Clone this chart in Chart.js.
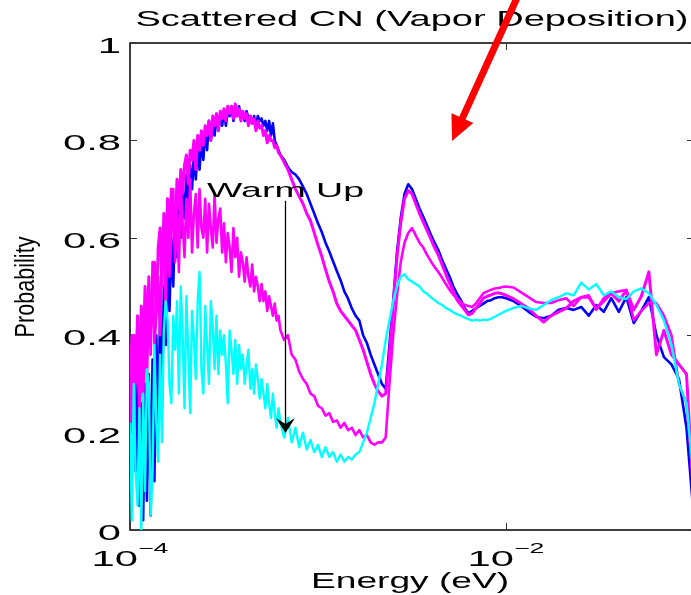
<!DOCTYPE html>
<html>
<head>
<meta charset="utf-8">
<script src="https://cdn.jsdelivr.net/npm/chart.js@4.4.1/dist/chart.umd.min.js"></script>
<style>
html, body { margin: 0; padding: 0; overflow: hidden; background: #fff; }
#wrap { width: 694px; height: 595px; }
</style>
</head>
<body>
<div id="wrap"><canvas id="cnChart"></canvas></div>
<script>
// log10 of energy (eV) for every sample, shared by all runs
const logEnergy = [
    -4.00,-3.99,-3.98,-3.97,-3.96,-3.95,-3.94,-3.93,-3.92,-3.91,
    -3.90,-3.89,-3.88,-3.87,-3.86,-3.85,-3.84,-3.83,-3.82,-3.81,
    -3.80,-3.79,-3.78,-3.77,-3.76,-3.75,-3.74,-3.73,-3.72,-3.71,
    -3.70,-3.69,-3.68,-3.67,-3.66,-3.65,-3.64,-3.63,-3.62,-3.61,
    -3.60,-3.59,-3.58,-3.57,-3.56,-3.55,-3.54,-3.53,-3.52,-3.51,
    -3.50,-3.49,-3.48,-3.47,-3.46,-3.45,-3.44,-3.43,-3.42,-3.41,
    -3.40,-3.39,-3.38,-3.37,-3.36,-3.35,-3.34,-3.33,-3.32,-3.31,
    -3.30,-3.29,-3.28,-3.27,-3.26,-3.25,-3.24,-3.23,-3.22,-3.21,
    -3.20,
    -3.18,-3.16,-3.14,-3.12,-3.10,-3.08,-3.06,-3.04,-3.02,-3.00,
    -2.98,-2.96,-2.94,-2.92,-2.90,-2.88,-2.86,-2.84,-2.82,-2.80,
    -2.78,-2.76,-2.74,-2.72,-2.70,-2.68,-2.66,-2.64,-2.62,-2.60,
    -2.58,-2.56,-2.54,-2.52,-2.50,-2.48,-2.46,-2.44,-2.42,-2.40,
    -2.38,-2.36,-2.34,-2.32,-2.30,-2.28,-2.26,-2.24,-2.22,-2.20,
    -2.18,-2.16,-2.14,-2.12,-2.10,-2.08,-2.06,-2.04,-2.02,-2.00,
    -1.96,-1.92,-1.88,-1.84,-1.80,-1.76,-1.72,-1.68,-1.64,-1.60,
    -1.56,-1.52,-1.48,-1.44,-1.40,-1.36,-1.32,-1.28,-1.24,-1.20,
    -1.16,-1.12,-1.08,-1.04,-1.00
];

const blueRun = [
    0.34,0.28,0.36,0.12,0.30,0.05,0.26,0.02,0.30,0.06,
    0.32,0.03,0.35,0.10,0.40,0.20,0.45,0.25,0.50,0.38,
    0.55,0.45,0.60,0.50,0.64,0.56,0.67,0.60,0.70,0.64,
    0.73,0.66,0.75,0.70,0.77,0.72,0.79,0.74,0.80,0.76,
    0.82,0.78,0.84,0.80,0.83,0.81,0.85,0.82,0.85,0.83,
    0.86,0.83,0.86,0.85,0.87,0.84,0.86,0.85,0.87,0.845,
    0.86,0.84,0.86,0.845,0.85,0.835,0.85,0.83,0.85,0.84,
    0.845,0.83,0.84,0.82,0.84,0.81,0.835,0.80,0.79,0.78,
    0.77,
    0.76,0.745,0.735,0.73,0.72,0.705,0.69,0.67,0.65,0.63,
    0.612,0.59,0.572,0.552,0.532,0.513,0.49,0.475,0.455,0.44,
    0.43,0.40,0.384,0.36,0.34,0.32,0.30,0.29,0.38,0.47,
    0.57,0.64,0.69,0.71,0.70,0.68,0.66,0.643,0.625,0.607,
    0.59,0.575,0.555,0.537,0.52,0.50,0.485,0.472,0.456,0.445,
    0.45,0.455,0.46,0.465,0.47,0.472,0.476,0.478,0.478,0.476,
    0.47,0.46,0.448,0.438,0.435,0.44,0.452,0.456,0.452,0.458,
    0.44,0.462,0.448,0.476,0.448,0.478,0.425,0.45,0.478,0.40,
    0.355,0.34,0.31,0.21,0.02
];

const magentaHigh = [
    0.38,0.20,0.40,0.30,0.44,0.27,0.46,0.35,0.50,0.38,
    0.52,0.42,0.48,0.55,0.45,0.58,0.62,0.50,0.65,0.56,
    0.68,0.60,0.70,0.64,0.62,0.72,0.66,0.74,0.69,0.75,
    0.77,0.71,0.78,0.76,0.80,0.74,0.81,0.78,0.82,0.79,
    0.83,0.81,0.84,0.80,0.85,0.83,0.855,0.82,0.86,0.845,
    0.865,0.84,0.87,0.855,0.87,0.845,0.875,0.85,0.865,0.84,
    0.86,0.845,0.855,0.83,0.85,0.835,0.845,0.82,0.84,0.825,
    0.83,0.81,0.82,0.795,0.81,0.80,0.80,0.785,0.79,0.775,
    0.77,
    0.755,0.74,0.72,0.70,0.685,0.67,0.65,0.635,0.61,0.585,
    0.562,0.535,0.51,0.49,0.465,0.45,0.44,0.43,0.42,0.41,
    0.39,0.37,0.345,0.32,0.30,0.285,0.275,0.28,0.36,0.46,
    0.56,0.63,0.68,0.697,0.69,0.67,0.65,0.632,0.615,0.598,
    0.58,0.565,0.545,0.525,0.507,0.49,0.472,0.462,0.452,0.442,
    0.445,0.455,0.465,0.476,0.48,0.483,0.486,0.487,0.485,0.482,
    0.475,0.465,0.455,0.44,0.427,0.44,0.448,0.455,0.47,0.478,
    0.478,0.455,0.47,0.486,0.47,0.492,0.452,0.48,0.53,0.36,
    0.41,0.36,0.34,0.32,0.05
];

const magentaMid = [
    0.30,0.40,0.18,0.34,0.42,0.22,0.38,0.26,0.45,0.30,
    0.48,0.36,0.55,0.38,0.44,0.52,0.40,0.58,0.62,0.45,
    0.68,0.52,0.60,0.70,0.55,0.66,0.53,0.71,0.63,0.56,
    0.68,0.60,0.72,0.57,0.65,0.69,0.58,0.70,0.62,0.60,
    0.68,0.57,0.67,0.62,0.58,0.69,0.59,0.64,0.66,0.57,
    0.63,0.55,0.61,0.58,0.53,0.62,0.56,0.60,0.52,0.57,
    0.55,0.51,0.56,0.52,0.50,0.545,0.49,0.52,0.50,0.47,
    0.505,0.47,0.49,0.45,0.48,0.46,0.44,0.465,0.43,0.44,
    0.41,
    0.39,0.40,0.36,0.35,0.325,0.31,0.30,0.28,0.275,0.255,
    0.25,0.235,0.24,0.222,0.225,0.21,0.22,0.205,0.21,0.195,
    0.205,0.19,0.195,0.18,0.175,0.18,0.18,0.19,0.30,0.40,
    0.48,0.55,0.59,0.61,0.62,0.605,0.59,0.58,0.565,0.552,
    0.54,0.53,0.518,0.505,0.493,0.483,0.475,0.468,0.462,0.46,
    0.458,0.465,0.476,0.486,0.49,0.493,0.496,0.497,0.499,0.50,
    0.498,0.488,0.478,0.468,0.466,0.466,0.472,0.476,0.46,0.478,
    0.482,0.452,0.476,0.486,0.49,0.493,0.431,0.45,0.466,0.466,
    0.44,0.40,0.30,0.26,0.08
];

const cyanRun = [
    0.22,0.02,0.30,0.12,0.05,0.25,0.00,0.28,0.08,0.33,
    0.30,0.03,0.12,0.38,0.22,0.14,0.36,0.18,0.41,0.47,
    0.43,0.30,0.26,0.44,0.37,0.47,0.28,0.50,0.40,0.25,
    0.48,0.36,0.24,0.45,0.39,0.31,0.47,0.53,0.33,0.28,
    0.46,0.38,0.30,0.47,0.42,0.33,0.44,0.32,0.41,0.36,
    0.40,0.34,0.26,0.41,0.37,0.32,0.39,0.30,0.38,0.33,
    0.36,0.30,0.34,0.37,0.29,0.33,0.28,0.34,0.31,0.27,
    0.31,0.28,0.25,0.30,0.26,0.23,0.28,0.24,0.21,0.25,
    0.22,
    0.19,0.23,0.18,0.21,0.17,0.20,0.165,0.185,0.16,0.175,
    0.15,0.17,0.15,0.16,0.14,0.155,0.14,0.15,0.145,0.155,
    0.16,0.18,0.20,0.23,0.26,0.30,0.34,0.39,0.43,0.47,
    0.50,0.52,0.525,0.515,0.51,0.505,0.50,0.49,0.485,0.478,
    0.472,0.466,0.462,0.456,0.452,0.447,0.443,0.44,0.436,0.433,
    0.43,0.432,0.43,0.432,0.431,0.434,0.438,0.442,0.446,0.45,
    0.456,0.46,0.455,0.452,0.462,0.472,0.478,0.486,0.482,0.508,
    0.494,0.505,0.482,0.49,0.478,0.474,0.49,0.496,0.486,0.462,
    0.43,0.38,0.30,0.26,0.10
];

const yTicks = [0, 0.2, 0.4, 0.6, 0.8, 1];
const yTickLabels = ['0', '0.2', '0.4', '0.6', '0.8', '1'];
const xTicks = [1e-4, 1e-2];
const xTickExponents = ['\u22124', '\u22122'];

const titleText = 'Scattered CN (Vapor Deposition)';
const xTitle = 'Energy (eV)';
const yTitle = 'Probability';
const warmLabel = 'Warm Up';

// annotation anchors, in data units
const warmTextAt = { x: 2.568e-4, y: 0.684 };
const warmArrow = { x: 6.715e-4, yFrom: 0.676, yTo: 0.199 };
const redArrow = { xFrom: 0.01167, yFrom: 1.10, xTo: 5.165e-3, yTo: 0.799 };

const FONT = '"Liberation Sans", Arial, Helvetica, sans-serif';

// text drawn squeezed/stretched along its run, like the original figure
function stretchText(ctx, text, x, y, size, { sx = 1, width = null, align = 'left', rotate = 0 } = {}) {
    ctx.save();
    ctx.font = `${size}px ${FONT}`;
    if (width) sx = width / ctx.measureText(text).width;
    ctx.translate(x, y);
    if (rotate) ctx.rotate(rotate);
    ctx.scale(sx, 1);
    ctx.textAlign = align;
    ctx.textBaseline = 'alphabetic';
    ctx.fillStyle = '#000';
    ctx.fillText(text, 0, 0);
    ctx.restore();
}

function textWidth(ctx, text, size, sx) {
    ctx.font = `${size}px ${FONT}`;
    return ctx.measureText(text).width * sx;
}

function arrowHead(ctx, tipX, tipY, fromX, fromY, len, half, notch, color) {
    const d = Math.hypot(tipX - fromX, tipY - fromY);
    const ux = (tipX - fromX) / d, uy = (tipY - fromY) / d;
    const bx = tipX - ux * len, by = tipY - uy * len;
    ctx.beginPath();
    ctx.moveTo(tipX, tipY);
    ctx.lineTo(bx - uy * half, by + ux * half);
    ctx.lineTo(tipX - ux * (len - notch), tipY - uy * (len - notch));
    ctx.lineTo(bx + uy * half, by - ux * half);
    ctx.closePath();
    ctx.fillStyle = color;
    ctx.fill();
}

const matlabFrame = {
    id: 'matlabFrame',
    beforeDatasetsDraw(chart) {
        const { ctx, chartArea: a, scales } = chart;
        ctx.save();
        ctx.strokeStyle = '#000';
        ctx.lineWidth = 1.5;
        ctx.strokeRect(a.left, a.top, a.right - a.left, a.bottom - a.top);
        // inward ticks on all four sides
        ctx.lineWidth = 1;
        ctx.strokeStyle = '#333';
        ctx.beginPath();
        yTicks.forEach(v => {
            const y = Math.round(scales.y.getPixelForValue(v)) + 0.5;
            ctx.moveTo(a.left, y); ctx.lineTo(a.left + 7, y);
            ctx.moveTo(a.right, y); ctx.lineTo(a.right - 7, y);
        });
        xTicks.forEach(v => {
            const x = Math.round(scales.x.getPixelForValue(v)) + 0.5;
            ctx.moveTo(x, a.bottom); ctx.lineTo(x, a.bottom - 7);
            ctx.moveTo(x, a.top); ctx.lineTo(x, a.top + 7);
        });
        ctx.stroke();
        ctx.restore();
    },
    afterDraw(chart) {
        const { ctx, chartArea: a, scales } = chart;

        // tick labels
        yTicks.forEach((v, i) => {
            stretchText(ctx, yTickLabels[i], a.left - 9, scales.y.getPixelForValue(v) + 10, 22, { sx: 1.9, align: 'right' });
        });
        xTicks.forEach((v, i) => {
            const px = scales.x.getPixelForValue(v);
            const wBase = textWidth(ctx, '10', 22, 1.9);
            const wExp = textWidth(ctx, xTickExponents[i], 14, 1.9);
            const start = px - (wBase + wExp) / 2;
            stretchText(ctx, '10', start, a.bottom + 36, 22, { sx: 1.9 });
            stretchText(ctx, xTickExponents[i], start + wBase, a.bottom + 23, 14, { sx: 1.9 });
        });

        // titles
        stretchText(ctx, titleText, 412, 26, 22, { width: 553, align: 'center' });
        stretchText(ctx, xTitle, 410, 588, 22, { width: 198, align: 'center' });
        stretchText(ctx, yTitle, 34, 287, 27, { width: 101, align: 'center', rotate: -Math.PI / 2 });

        // warm-up annotation
        const wx = scales.x.getPixelForValue(warmTextAt.x);
        const wy = scales.y.getPixelForValue(warmTextAt.y);
        stretchText(ctx, warmLabel, wx, wy, 21, { width: 157 });

        const ax = Math.round(scales.x.getPixelForValue(warmArrow.x)) + 0.5;
        const ay0 = scales.y.getPixelForValue(warmArrow.yFrom);
        const ay1 = scales.y.getPixelForValue(warmArrow.yTo);
        ctx.save();
        ctx.strokeStyle = '#000';
        ctx.lineWidth = 1.3;
        ctx.beginPath();
        ctx.moveTo(ax, ay0);
        ctx.lineTo(ax, ay1 - 8);
        ctx.stroke();
        arrowHead(ctx, ax, ay1, ax, ay0, 15, 9.5, 6, '#000');

        // red pointer
        const rx0 = scales.x.getPixelForValue(redArrow.xFrom);
        const ry0 = scales.y.getPixelForValue(redArrow.yFrom);
        const rx1 = scales.x.getPixelForValue(redArrow.xTo);
        const ry1 = scales.y.getPixelForValue(redArrow.yTo);
        const d = Math.hypot(rx1 - rx0, ry1 - ry0);
        ctx.strokeStyle = '#ff0000';
        ctx.lineWidth = 7;
        ctx.beginPath();
        ctx.moveTo(rx0, ry0);
        ctx.lineTo(rx1 - (rx1 - rx0) / d * 22, ry1 - (ry1 - ry0) / d * 22);
        ctx.stroke();
        arrowHead(ctx, rx1, ry1, rx0, ry0, 25, 12, 0, '#ff0000');
        ctx.restore();
    }
};

const runs = [
    { data: blueRun, color: '#0000ff', width: 2.6, order: 4 },
    { data: magentaHigh, color: '#ff00ff', width: 3, order: 3 },
    { data: magentaMid, color: '#ff00ff', width: 2.6, order: 2 },
    { data: cyanRun, color: '#00ffff', width: 2.4, order: 1 }
];

new Chart(document.getElementById('cnChart'), {
    type: 'line',
    data: {
        datasets: runs.map(r => ({
            data: logEnergy.map((l, i) => ({ x: 10 ** l, y: r.data[i] })),
            borderColor: r.color,
            borderWidth: r.width,
            borderJoinStyle: 'round',
            pointRadius: 0,
            tension: 0,
            fill: false,
            order: r.order
        }))
    },
    options: {
        responsive: true,
        maintainAspectRatio: false,
        animation: false,
        devicePixelRatio: 1,
        layout: { padding: { top: 43, left: 0, right: 0, bottom: 0 } },
        plugins: { legend: { display: false }, tooltip: { enabled: false }, title: { display: false } },
        scales: {
            x: {
                type: 'logarithmic',
                min: 1e-4,
                max: 1e-1,
                grid: { display: false },
                border: { display: false },
                ticks: { display: false },
                afterBuildTicks: s => { s.ticks = xTicks.map(v => ({ value: v })); },
                afterFit: s => { s.height = 65; }
            },
            y: {
                min: 0,
                max: 1,
                grid: { display: false },
                border: { display: false },
                ticks: { display: false },
                afterBuildTicks: s => { s.ticks = yTicks.map(v => ({ value: v })); },
                afterFit: s => { s.width = 130; }
            }
        }
    },
    plugins: [matlabFrame]
});
</script>
</body>
</html>
